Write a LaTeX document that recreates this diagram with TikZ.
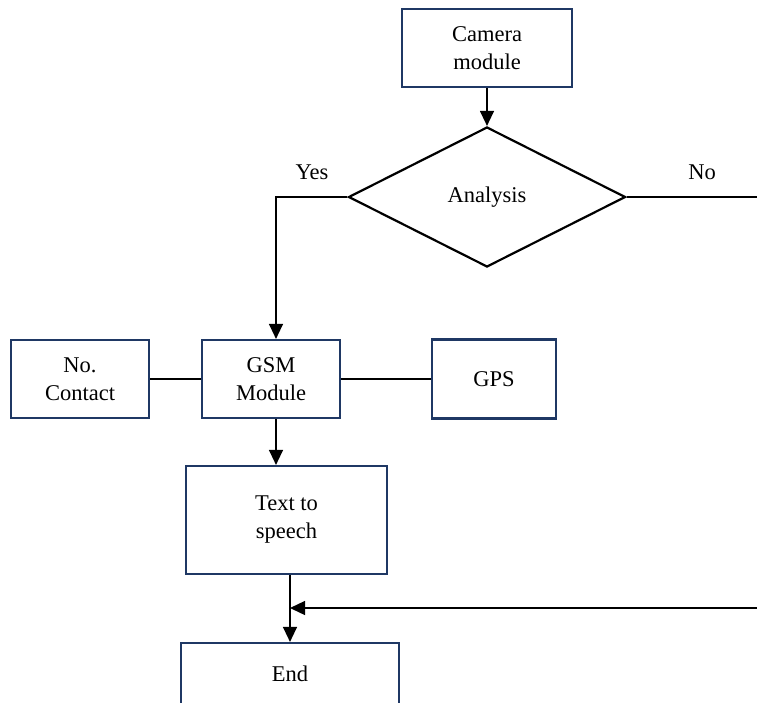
\documentclass[tikz,border=0pt]{standalone}
\usepackage{fontspec}
\setmainfont{Liberation Serif}
\usetikzlibrary{shapes.geometric,arrows.meta}
\definecolor{boxnavy}{HTML}{1F3864}
\tikzset{
  unit/.style={draw=boxnavy, line width=2.2pt, rectangle, align=center, inner sep=0pt},
  decide/.style={draw, line width=2.2pt, diamond, aspect=1.98, minimum width=277pt, minimum height=140pt, inner sep=0pt},
  flow/.style={line width=1.3pt},
  link/.style={line width=2pt},
}

\begin{document}
\begin{tikzpicture}[x=1pt, y=-1pt, >={Triangle[length=15pt,width=14pt]}, font=\fontsize{22.5}{28}\selectfont]
  \clip (0,0) rectangle (757,702);
  % blocks
  \node [unit, minimum width=170pt, minimum height=78pt] (camera) at (487,48) {Camera\\module};
  \node [decide] (analysis) at (487,197) {Analysis};
  \node [unit, minimum width=138pt, minimum height=78pt] (contact) at (80,379) {No.\\Contact};
  \node [unit, minimum width=138pt, minimum height=78pt] (gsm) at (271,379) {GSM\\Module};
  \node [unit, minimum width=124pt, minimum height=79pt] (gps) at (494,379) {GPS};
  \node [unit, minimum width=201pt, minimum height=108pt] (tts) at (286.5,520) {Text to\\speech};
  \node [unit, minimum width=218pt, minimum height=62pt] (finish) at (290,674) {End};
  % branch labels
  \node (yes) at (312,172) {Yes};
  \node (no) at (702,172) {No};
  % connectors
  \coordinate (yesbend) at (276,197);
  \coordinate (noend) at (757,197);
  \coordinate (backin) at (757,608);
  \draw [flow, ->] (camera) -- (analysis);
  \draw [flow, ->] (analysis.west) -- (yesbend) -- (yesbend |- gsm.north);
  \draw [flow] (analysis.east) -- (noend);
  \draw [link] (contact) -- (gsm);
  \draw [link] (gsm) -- (gps);
  \draw [flow, ->] (yesbend |- gsm.south) -- (yesbend |- tts.north);
  \draw [flow, ->] (finish.north |- tts.south) -- (finish.north);
  \draw [flow, ->] (backin) -- (backin -| finish.north);
\end{tikzpicture}
\end{document}
